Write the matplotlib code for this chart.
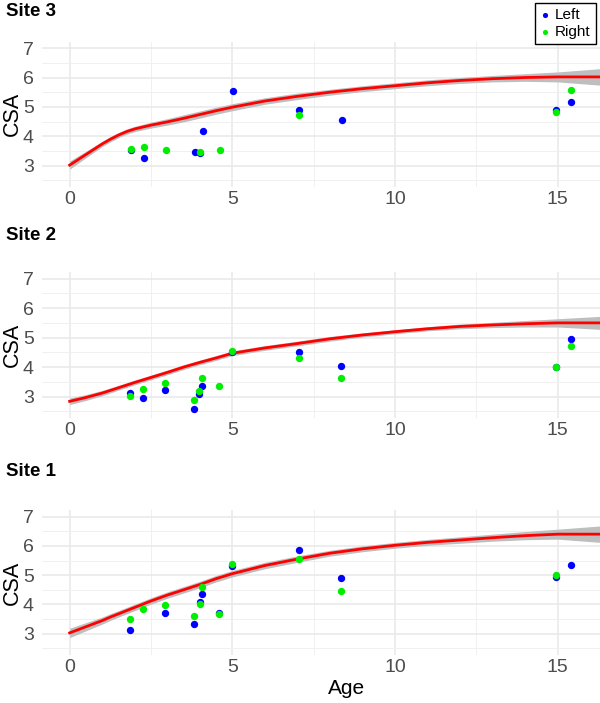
import matplotlib
matplotlib.use("Agg")
import matplotlib.pyplot as plt
from matplotlib.ticker import MultipleLocator
import numpy as np

plt.rcParams['font.family'] = ['Liberation Sans', 'DejaVu Sans']

# ---- data ----
site3_left_age = [1.88, 2.28, 3.84, 4.0, 4.1, 5.02, 7.06, 8.36, 14.95, 15.42]
site3_left_csa = [3.52, 3.25, 3.45, 3.44, 4.17, 5.54, 4.91, 4.54, 4.88, 5.15]
site3_right_age = [1.88, 2.28, 2.95, 4.0, 4.62, 7.06, 14.95, 15.42]
site3_right_csa = [3.57, 3.63, 3.53, 3.46, 3.55, 4.74, 4.82, 5.56]

site2_left_age = [1.84, 2.26, 2.93, 3.83, 3.98, 4.08, 5.0, 7.05, 8.35, 14.95, 15.42]
site2_left_csa = [3.13, 2.95, 3.21, 2.59, 3.1, 3.37, 4.5, 4.51, 4.03, 4.02, 4.94]
site2_right_age = [1.84, 2.26, 2.93, 3.83, 3.98, 4.08, 4.6, 5.0, 7.05, 8.35, 14.95, 15.42]
site2_right_csa = [3.01, 3.27, 3.46, 2.87, 3.18, 3.62, 3.35, 4.54, 4.31, 3.62, 4.0, 4.71]

site1_left_age = [1.84, 2.94, 3.83, 4.0, 4.08, 4.6, 5.0, 7.05, 8.35, 14.95, 15.4]
site1_left_csa = [3.13, 3.72, 3.35, 4.08, 4.36, 3.72, 5.31, 5.86, 4.89, 4.93, 5.35]
site1_right_age = [1.84, 2.26, 2.94, 3.83, 4.0, 4.08, 4.6, 5.0, 7.05, 8.35, 14.95]
site1_right_csa = [3.49, 3.85, 3.97, 3.59, 4.0, 4.59, 3.66, 5.39, 5.54, 4.45, 5.02]

# smooth fit and half width of its ribbon
fit_age = [0, 0.5, 1, 1.25, 1.5, 1.75, 2, 2.5, 3, 3.5, 4, 4.5, 5, 6, 7, 8, 9, 10, 11, 12, 13, 14, 15, 16.3]
site3_fit = [3.02, 3.38, 3.74, 3.9, 4.04, 4.16, 4.25, 4.38, 4.49, 4.61, 4.74, 4.87, 4.99, 5.2, 5.36,
             5.5, 5.62, 5.72, 5.82, 5.9, 5.96, 6.0, 6.02, 6.02]
site3_se = [0.14, 0.11, 0.09, 0.09, 0.09, 0.09, 0.09, 0.1, 0.11, 0.12, 0.12, 0.12, 0.12, 0.11, 0.11, 0.1,
            0.1, 0.1, 0.1, 0.1, 0.11, 0.13, 0.17, 0.28]
site2_fit = [2.84, 2.97, 3.12, 3.21, 3.3, 3.39, 3.48, 3.65, 3.82, 4.0, 4.16, 4.31, 4.47, 4.65, 4.8,
             4.96, 5.09, 5.2, 5.3, 5.38, 5.43, 5.47, 5.5, 5.5]
site2_se = [0.11, 0.1, 0.09, 0.085, 0.08, 0.08, 0.08, 0.08, 0.08, 0.08, 0.08, 0.08, 0.08, 0.08, 0.08,
            0.08, 0.07, 0.07, 0.07, 0.08, 0.09, 0.11, 0.14, 0.22]
site1_fit = [3.03, 3.24, 3.45, 3.57, 3.68, 3.79, 3.9, 4.12, 4.32, 4.5, 4.68, 4.88, 5.05, 5.33, 5.55,
             5.75, 5.9, 6.02, 6.12, 6.2, 6.28, 6.35, 6.4, 6.4]
site1_se = [0.16, 0.14, 0.12, 0.115, 0.11, 0.11, 0.11, 0.11, 0.11, 0.11, 0.11, 0.11, 0.11, 0.11, 0.11, 0.1,
            0.1, 0.1, 0.1, 0.11, 0.12, 0.14, 0.17, 0.28]

W, H = 600, 703
fig = plt.figure(figsize=(W / 100, H / 100), dpi=100)

# panel layout in pixels: (title, data..., top, bottom, title y)
panels = [
    ('Site 3', site3_left_age, site3_left_csa, site3_right_age, site3_right_csa, site3_fit, site3_se, 41.5, 187, 12),
    ('Site 2', site2_left_age, site2_left_csa, site2_right_age, site2_right_csa, site2_fit, site2_se, 272, 418, 235),
    ('Site 1', site1_left_age, site1_left_csa, site1_right_age, site1_right_csa, site1_fit, site1_se, 510, 655, 472),
]

left_px, right_px = 42, 600
handles = None
for i, (title, la, lc, ra, rc_, fit, se, top, bot, ty) in enumerate(panels):
    ax = fig.add_axes([left_px / W, 1 - bot / H, (right_px - left_px) / W, (bot - top) / H])
    fit = np.array(fit)
    se = np.array(se)

    ax.set_xlim(-0.85, 16.3)
    ax.set_ylim(2.275, 7.225)
    ax.xaxis.set_major_locator(MultipleLocator(5))
    ax.xaxis.set_minor_locator(MultipleLocator(2.5))
    ax.yaxis.set_major_locator(MultipleLocator(1))
    ax.yaxis.set_minor_locator(MultipleLocator(0.5))
    ax.grid(True, which='major', color='#E8E8E8', lw=1.1)
    ax.grid(True, which='minor', color='#F0F0F0', lw=0.7)
    ax.set_axisbelow(True)
    for s in ax.spines.values():
        s.set_visible(False)
    ax.tick_params(which='both', length=0, labelsize=14, labelcolor='#4D4D4D')
    ax.tick_params(axis='y', pad=6)
    ax.tick_params(axis='x', pad=3)

    ax.fill_between(fit_age, fit - se, fit + se, color='#BEBEBE', lw=0, zorder=2)
    ax.plot(fit_age, fit, color='#FF0000', lw=2.0, zorder=3)
    h1 = ax.scatter(la, lc, s=28, color='#0000FF', lw=0, zorder=4, label='Left')
    h2 = ax.scatter(ra, rc_, s=28, color='#00EE00', lw=0, zorder=5, label='Right')
    if handles is None:
        handles = [h1, h2]

    ax.set_ylabel('CSA', fontsize=15.5, va='center')
    ax.yaxis.set_label_coords((12 - left_px) / (right_px - left_px), 0.5)
    if i == 2:
        ax.set_xlabel('Age', fontsize=15)
        ax.xaxis.set_label_coords((347 - left_px) / (right_px - left_px), -(689 - bot) / (bot - top))
        ax.xaxis.label.set_va('center')

    fig.text(6 / W, 1 - ty / H, title, fontsize=13.5, fontweight='bold', va='center', ha='left')

leg = fig.legend(handles=handles, loc='upper right', bbox_to_anchor=(596 / W, 1 - 3 / H),
                 bbox_transform=fig.transFigure, fontsize=11, frameon=True, fancybox=False,
                 edgecolor='black', framealpha=1, borderpad=0.35, labelspacing=0.15,
                 handlelength=0.6, handletextpad=0.35, borderaxespad=0, markerscale=0.7)
leg.get_frame().set_linewidth(1.0)

fig.savefig('out.png', dpi=100)
